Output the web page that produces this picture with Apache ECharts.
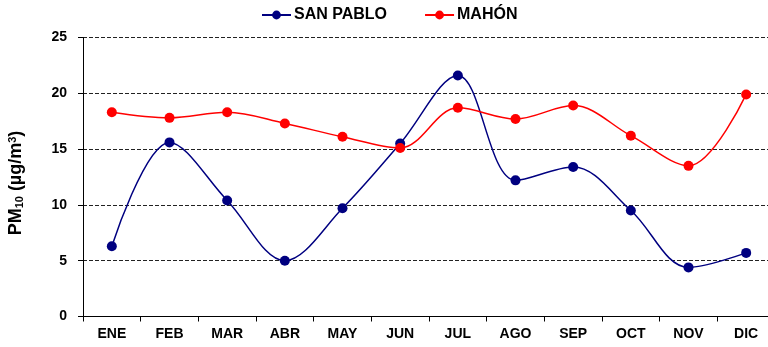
<!DOCTYPE html>
<html>
<head>
<meta charset="utf-8">
<script src="https://cdn.jsdelivr.net/npm/echarts@6/dist/echarts.min.js"></script>
<style>
  html, body { margin: 0; padding: 0; background: #fff; }
  #chart { width: 768px; height: 347px; }
</style>
</head>
<body>
<div id="chart"></div>
<script>
// Monthly PM10 means for two stations
const months = ['ENE', 'FEB', 'MAR', 'ABR', 'MAY', 'JUN', 'JUL', 'AGO', 'SEP', 'OCT', 'NOV', 'DIC'];
const sanPablo = [6.3, 15.6, 10.4, 5.0, 9.7, 15.5, 21.6, 12.2, 13.4, 9.5, 4.4, 5.7];
const mahon = [18.3, 17.8, 18.3, 17.3, 16.1, 15.1, 18.7, 17.7, 18.9, 16.2, 13.5, 19.9];
const yTicks = { min: 0, max: 25, interval: 5 };

const font = 'Liberation Sans, Arial, sans-serif';
const chart = echarts.init(document.getElementById('chart'));

chart.setOption({
  animation: false,
  backgroundColor: '#ffffff',
  textStyle: { fontFamily: font },
  legend: {
    top: 7,
    left: 261,
    itemGap: 37,
    itemWidth: 29,
    itemHeight: 11,
    padding: 0,
    textStyle: { fontFamily: font, fontWeight: 'bold', fontSize: 16, color: '#000', padding: [0, 0, 0, -2] },
    data: ['SAN PABLO', 'MAHÓN']
  },
  grid: { left: 83, top: 37.5, width: 692, height: 279, outerBoundsMode: 'none', containLabel: false },
  xAxis: {
    type: 'category',
    data: months,
    boundaryGap: true,
    axisLine: { lineStyle: { color: '#000', width: 1 } },
    axisTick: { show: true, length: 5, lineStyle: { color: '#000' } },
    axisLabel: { fontFamily: font, fontWeight: 'bold', fontSize: 14, color: '#000', margin: 11 }
  },
  yAxis: {
    type: 'value',
    min: yTicks.min,
    max: yTicks.max,
    interval: yTicks.interval,
    name: '{b|PM}{s|10}{b| (µg/m}{p|3}{b|)}',
    nameLocation: 'middle',
    nameGap: 58,
    nameRotate: 90,
    nameTextStyle: {
      padding: [0, 12, 0, 0],
      rich: {
        b: { fontFamily: font, fontWeight: 'bold', fontSize: 18, color: '#000' },
        s: { fontFamily: font, fontWeight: 'bold', fontSize: 11, color: '#000', verticalAlign: 'bottom', padding: [7, 0, 0, 0] },
        p: { fontFamily: font, fontWeight: 'bold', fontSize: 11, color: '#000', verticalAlign: 'top', padding: [0, 0, 7, 0] }
      }
    },
    axisLine: { show: true, lineStyle: { color: '#000', width: 1 } },
    axisTick: { show: true, length: 5, lineStyle: { color: '#000' } },
    axisLabel: { fontFamily: font, fontWeight: 'bold', fontSize: 14, color: '#000', margin: 16 },
    splitLine: { show: true, lineStyle: { color: '#222', type: [4, 2], width: 1 } }
  },
  series: [
    {
      name: 'SAN PABLO',
      type: 'line',
      data: sanPablo,
      smooth: 0.35,
      symbol: 'circle',
      symbolSize: 10,
      itemStyle: { color: '#000080' },
      lineStyle: { color: '#000080', width: 1.5 },
      z: 3
    },
    {
      name: 'MAHÓN',
      type: 'line',
      data: mahon,
      smooth: 0.35,
      symbol: 'circle',
      symbolSize: 10,
      itemStyle: { color: '#ff0000' },
      lineStyle: { color: '#ff0000', width: 1.5 },
      z: 4
    }
  ]
});
</script>
</body>
</html>
